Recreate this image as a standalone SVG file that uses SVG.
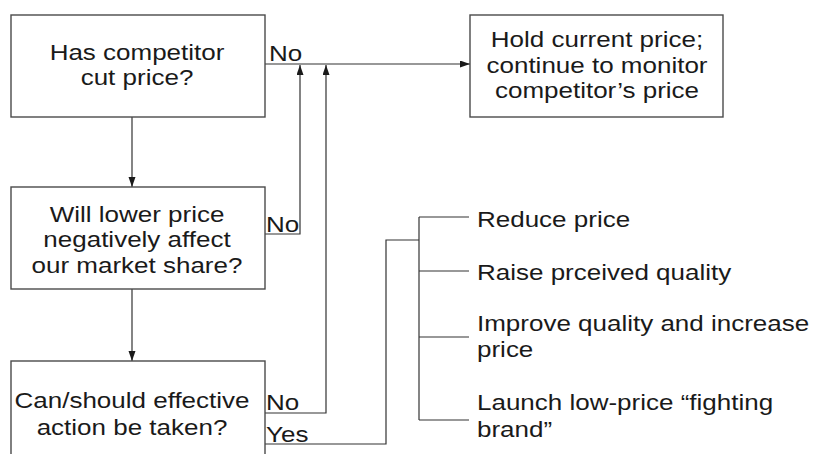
<svg xmlns="http://www.w3.org/2000/svg" width="815" height="454" viewBox="0 0 815 454">
<style>
.box{fill:#fff;stroke:#4a4a4a;stroke-width:1.4}
.t{font-family:"Liberation Sans",Arial,sans-serif;font-size:26px;fill:#1a1a1a}
.c{text-anchor:middle}
.ln{fill:none;stroke:#333;stroke-width:1.2}
</style>
<defs>
<marker id="ah" markerWidth="10" markerHeight="8" refX="10" refY="3.5" orient="auto" markerUnits="userSpaceOnUse">
<path d="M0,0 L10,3.5 L0,7 Z" fill="#1a1a1a"/>
</marker>
</defs>
<rect width="815" height="454" fill="#fff"/>
<g id="connectors">
<path class="ln" d="M265,64 H470" marker-end="url(#ah)"/>
<path class="ln" d="M132,117 V187" marker-end="url(#ah)"/>
<path class="ln" d="M132,289 V361" marker-end="url(#ah)"/>
<path class="ln" d="M265,234 H300 V65" marker-end="url(#ah)"/>
<path class="ln" d="M265,413 H326 V65" marker-end="url(#ah)"/>
<path class="ln" d="M265,444 H386 V240 H419"/>
<path class="ln" d="M419,217 V420"/>
<path class="ln" d="M419,217 H469 M419,271 H469 M419,337 H469 M419,420 H469"/>
<text class="t" transform="translate(269,61) scale(1,0.86)">No</text>
<text class="t" transform="translate(266,232) scale(1,0.86)">No</text>
<text class="t" transform="translate(266,410) scale(1,0.86)">No</text>
<text class="t" transform="translate(266,442) scale(1,0.86)">Yes</text>
</g>
<g id="n1">
<rect class="box" x="11" y="15" width="254" height="102"/>
<text class="t c" transform="translate(137,60) scale(1,0.86)">Has competitor</text>
<text class="t c" transform="translate(137,85) scale(1,0.86)">cut price?</text>
</g>
<g id="n2">
<rect class="box" x="11" y="187" width="254" height="102"/>
<text class="t c" transform="translate(137,222) scale(1,0.86)">Will lower price</text>
<text class="t c" transform="translate(137,247) scale(1,0.86)">negatively affect</text>
<text class="t c" transform="translate(137,273) scale(1,0.86)">our market share?</text>
</g>
<g id="n3">
<rect class="box" x="11" y="361" width="254" height="110"/>
<text class="t c" transform="translate(132,408) scale(1,0.86)">Can/should effective</text>
<text class="t c" transform="translate(132,435) scale(1,0.86)">action be taken?</text>
</g>
<g id="n4">
<rect class="box" x="470" y="15" width="253" height="102"/>
<text class="t c" transform="translate(597,47) scale(1,0.86)">Hold current price;</text>
<text class="t c" transform="translate(597,73) scale(1,0.86)">continue to monitor</text>
<text class="t c" transform="translate(597,98) scale(1,0.86)">competitor’s price</text>
</g>
<g id="options">
<text class="t" transform="translate(477,227) scale(1,0.86)">Reduce price</text>
<text class="t" transform="translate(477,280) scale(1,0.86)">Raise prceived quality</text>
<text class="t" transform="translate(477,331) scale(1,0.86)">Improve quality and increase</text>
<text class="t" transform="translate(477,357) scale(1,0.86)">price</text>
<text class="t" transform="translate(477,410) scale(1,0.86)">Launch low-price “fighting</text>
<text class="t" transform="translate(477,437) scale(1,0.86)">brand”</text>
</g>
</svg>
